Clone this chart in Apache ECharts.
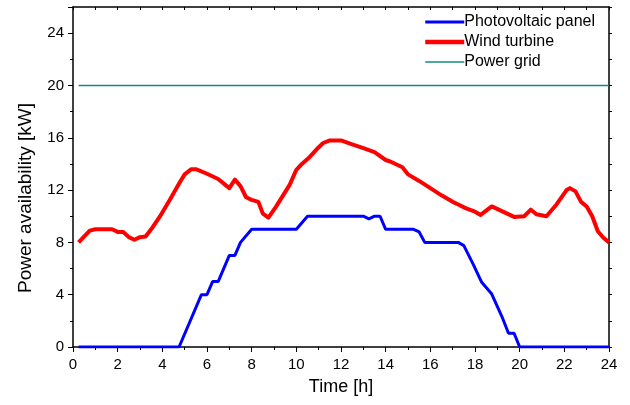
<!DOCTYPE html>
<html>
<head>
<meta charset="utf-8">
<script src="https://cdn.jsdelivr.net/npm/echarts@6/dist/echarts.min.js"></script>
<style>
  html, body { margin: 0; padding: 0; background: #ffffff; }
  #chart { width: 630px; height: 405px; }
</style>
</head>
<body>
<div id="chart"></div>
<script>
// hours / kW
const windHours = [0.25, 0.75, 1.0, 1.75, 2.0, 2.25, 2.5, 2.75, 3.0, 3.25, 3.5, 3.9, 4.35, 4.75, 5.0, 5.3, 5.5, 6.0, 6.5, 7.0, 7.25, 7.5, 7.75, 8.0, 8.3, 8.5, 8.75, 9.1, 9.7, 10.0, 10.25, 10.55, 10.9, 11.2, 11.5, 12.0, 12.5, 13.0, 13.5, 14.0, 14.25, 14.75, 15.0, 15.5, 16.0, 16.5, 17.0, 17.25, 17.6, 18.0, 18.25, 18.75, 19.25, 19.75, 20.2, 20.5, 20.75, 21.2, 21.65, 22.1, 22.25, 22.5, 22.75, 23.0, 23.25, 23.5, 23.75, 24.0];
const windPower = [8.0, 8.9, 9.0, 9.0, 8.8, 8.8, 8.4, 8.2, 8.4, 8.45, 9.0, 10.0, 11.3, 12.5, 13.2, 13.6, 13.6, 13.25, 12.85, 12.15, 12.8, 12.3, 11.45, 11.25, 11.1, 10.2, 9.9, 10.75, 12.4, 13.55, 14.0, 14.45, 15.1, 15.6, 15.8, 15.8, 15.5, 15.2, 14.9, 14.3, 14.15, 13.75, 13.2, 12.7, 12.15, 11.6, 11.1, 10.9, 10.6, 10.35, 10.1, 10.75, 10.35, 9.95, 10.0, 10.5, 10.15, 10.0, 10.9, 12.0, 12.15, 11.9, 11.1, 10.75, 10.0, 8.85, 8.35, 8.0];

const pvHours = [0.25, 4.75, 5.75, 6.0, 6.25, 6.5, 7.0, 7.25, 7.5, 8.0, 10.0, 10.5, 13.0, 13.25, 13.5, 13.75, 14.0, 15.25, 15.5, 15.75, 17.25, 17.5, 17.9, 18.3, 18.75, 19.2, 19.5, 19.75, 20.0, 24.0];
const pvPower = [0, 0, 4.0, 4.0, 5.0, 5.0, 7.0, 7.0, 8.0, 9.0, 9.0, 10.0, 10.0, 9.8, 10.0, 10.0, 9.0, 9.0, 8.8, 8.0, 8.0, 7.75, 6.4, 4.95, 4.05, 2.35, 1.05, 1.05, 0, 0];

const gridHours = [0.25, 24];
const gridPower = [20, 20];

const xTicks = { min: 0, max: 24, step: 2 };
const yTicks = { min: 0, max: 26, step: 4 };

const pairs = (xs, ys) => xs.map((x, i) => [x, ys[i]]);

const chart = echarts.init(document.getElementById('chart'));
const font = 'Liberation Sans, Arial, sans-serif';

const PV = '#0000ff', WIND = '#ff0000', GRID = '#128a8a';

function frameAxis(inside) {
  return {
    axisLine: { show: true, onZero: false, lineStyle: { color: '#000', width: 1.5 } },
    axisTick: { show: true, inside: inside, length: 3, lineStyle: { color: '#000' } },
    minorTick: { show: false },
    axisLabel: { show: false },
    splitLine: { show: false }
  };
}

chart.setOption({
  animation: false,
  backgroundColor: '#ffffff',
  textStyle: { fontFamily: font },
  grid: { left: 73, right: 21, top: 7, bottom: 58 },
  legend: {
    orient: 'vertical',
    right: 30,
    top: 9,
    itemWidth: 39,
    itemHeight: 14,
    itemGap: 4,
    itemStyle: { opacity: 0 },
    textStyle: { fontSize: 16, color: '#000', fontFamily: font, padding: [0, 0, 0, -5] },
    data: [
      { name: 'Photovoltaic panel', lineStyle: { width: 3, color: PV } },
      { name: 'Wind turbine', lineStyle: { width: 4.5, color: WIND } },
      { name: 'Power grid', lineStyle: { width: 1.5, color: GRID } }
    ]
  },
  xAxis: [{
    type: 'value',
    min: xTicks.min,
    max: xTicks.max,
    interval: xTicks.step,
    name: 'Time [h]',
    nameLocation: 'middle',
    nameGap: 31,
    nameTextStyle: { fontSize: 18, color: '#000' },
    axisLine: { show: true, onZero: false, lineStyle: { color: '#000', width: 1.5 } },
    axisTick: { show: true, length: 5, lineStyle: { color: '#000' } },
    minorTick: { show: true, splitNumber: 2, length: 3, lineStyle: { color: '#000' } },
    axisLabel: { fontSize: 15, color: '#000', margin: 10 },
    splitLine: { show: false }
  }, Object.assign({ type: 'value', position: 'top', min: xTicks.min, max: xTicks.max, interval: xTicks.step / 2 }, frameAxis(true))],
  yAxis: [{
    type: 'value',
    min: yTicks.min,
    max: yTicks.max,
    interval: yTicks.step,
    name: 'Power availability [kW]',
    nameLocation: 'middle',
    nameGap: 38,
    nameTextStyle: { fontSize: 19, color: '#000', padding: [0, 42, 0, 0] },
    axisLine: { show: true, onZero: false, lineStyle: { color: '#000', width: 1.5 } },
    axisTick: { show: true, length: 5, lineStyle: { color: '#000' } },
    minorTick: { show: true, splitNumber: 2, length: 3, lineStyle: { color: '#000' } },
    axisLabel: { fontSize: 15, color: '#000', margin: 9, showMaxLabel: false },
    splitLine: { show: false }
  }, Object.assign({ type: 'value', position: 'right', min: yTicks.min, max: yTicks.max, interval: yTicks.step / 2 }, frameAxis(false))],
  series: [
    {
      name: 'Photovoltaic panel',
      type: 'line',
      data: pairs(pvHours, pvPower),
      symbol: 'none',
      lineStyle: { color: PV, width: 3 },
      itemStyle: { color: PV },
      z: 3
    },
    {
      name: 'Wind turbine',
      type: 'line',
      data: pairs(windHours, windPower),
      symbol: 'none',
      lineStyle: { color: WIND, width: 4, join: 'round' },
      itemStyle: { color: WIND },
      z: 2
    },
    {
      name: 'Power grid',
      type: 'line',
      data: pairs(gridHours, gridPower),
      symbol: 'none',
      lineStyle: { color: GRID, width: 1.5 },
      itemStyle: { color: GRID },
      z: 1
    }
  ]
});
</script>
</body>
</html>
